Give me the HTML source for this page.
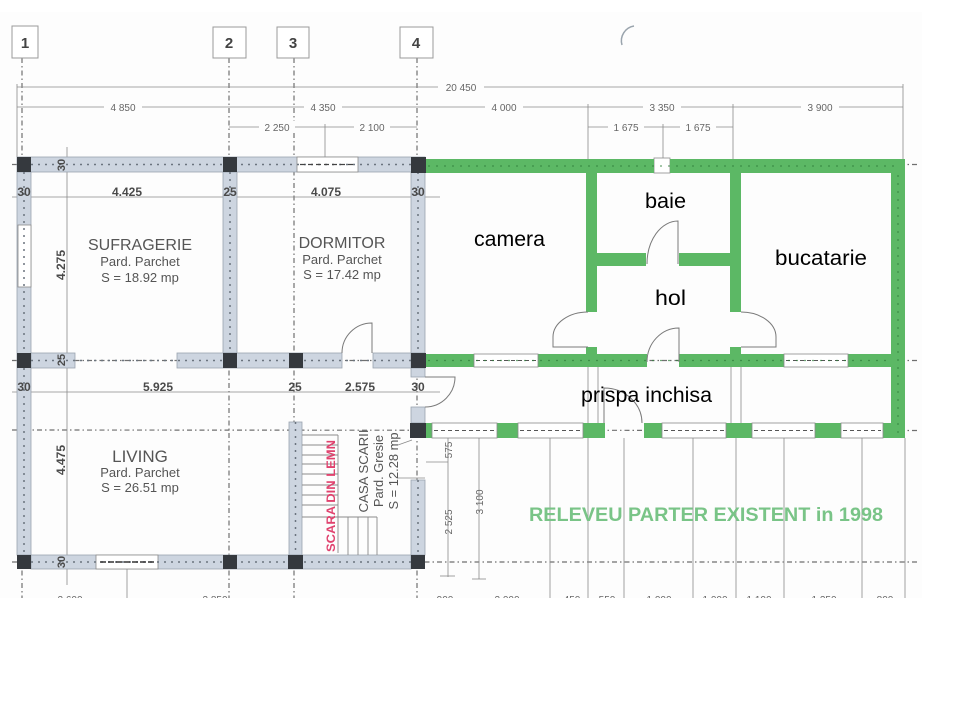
<!DOCTYPE html>
<html><head><meta charset="utf-8"><style>html,body{margin:0;padding:0;background:#fff}svg{display:block}</style></head>
<body>
<svg width="960" height="720" viewBox="0 0 960 720" xmlns="http://www.w3.org/2000/svg" font-family="'Liberation Sans', Arial, sans-serif">
<defs><clipPath id="c"><rect x="0" y="12" width="922" height="586"/></clipPath></defs>
<rect width="960" height="720" fill="#fff"/>
<g clip-path="url(#c)">
<rect x="0" y="12" width="922" height="586" fill="#fdfdfd"/>
<path d="M634,26 A15,15 0 0,0 622,45" stroke="#9aa4ad" stroke-width="1.5" fill="none"/>

<!-- axis lines -->
<g stroke="#707070" stroke-width="1.2" stroke-dasharray="5 3 1.5 3" fill="none">
<line x1="22" y1="58" x2="22" y2="600"/>
<line x1="229" y1="58" x2="229" y2="600"/>
<line x1="294" y1="58" x2="294" y2="600"/>
<line x1="417" y1="58" x2="417" y2="600"/>
<line x1="12" y1="164.5" x2="920" y2="164.5"/>
<line x1="12" y1="360.5" x2="920" y2="360.5"/>
<line x1="12" y1="430" x2="920" y2="430.5"/>
<line x1="12" y1="562" x2="920" y2="562"/>
</g>

<!-- axis label boxes -->
<g fill="#fff" stroke="#9a9a9a" stroke-width="1">
<rect x="12" y="26" width="26" height="32"/>
<rect x="213" y="27" width="33" height="31"/>
<rect x="277" y="27" width="32" height="31"/>
<rect x="400" y="27" width="33" height="31"/>
</g>
<g font-size="15" font-weight="bold" fill="#444" text-anchor="middle">
<text x="25" y="48">1</text><text x="229" y="48">2</text><text x="293" y="48">3</text><text x="416" y="48">4</text>
</g>

<!-- top dimension lines -->
<g stroke="#8a8a8a" stroke-width="0.8" fill="none">
<line x1="17" y1="87" x2="903" y2="87"/>
<line x1="17" y1="107" x2="903" y2="107"/>
<line x1="229" y1="127" x2="417" y2="127"/>
<line x1="588" y1="127" x2="733" y2="127"/>
<line x1="17" y1="84" x2="17" y2="157"/>
<line x1="903" y1="84" x2="903" y2="160"/>
<line x1="588" y1="104" x2="588" y2="160"/>
<line x1="733" y1="104" x2="733" y2="160"/>
<line x1="663" y1="124" x2="663" y2="158"/>
<line x1="325" y1="124" x2="325" y2="157"/>
<line x1="12" y1="197" x2="440" y2="197"/>
<line x1="12" y1="392" x2="440" y2="392"/>
<line x1="67" y1="147" x2="67" y2="585"/>
<line x1="127" y1="569" x2="127" y2="600"/>
<line x1="448" y1="438" x2="448" y2="577"/>
<line x1="479" y1="438" x2="479" y2="579"/>
<line x1="426" y1="462" x2="448" y2="462"/>
<line x1="440" y1="576" x2="455" y2="576"/>
<line x1="472" y1="579" x2="486" y2="579"/>
<line x1="550" y1="438" x2="550" y2="600"/>
<line x1="588" y1="367" x2="588" y2="600"/>
<line x1="598" y1="367" x2="598" y2="438"/>
<line x1="624" y1="438" x2="624" y2="600"/>
<line x1="693" y1="438" x2="693" y2="600"/>
<line x1="731" y1="367" x2="731" y2="423"/>
<line x1="741" y1="367" x2="741" y2="423"/>
<line x1="736" y1="438" x2="736" y2="600"/>
<line x1="784" y1="438" x2="784" y2="600"/>
<line x1="862" y1="438" x2="862" y2="600"/>
<line x1="905" y1="438" x2="905" y2="600"/>
<line x1="398" y1="445" x2="412" y2="440"/>
<line x1="398" y1="478" x2="425" y2="478"/>
</g>
<g font-size="10" fill="#666" text-anchor="middle">
<rect x="438" y="81" width="46" height="12" fill="#fdfdfd"/><text x="461" y="91">20 450</text>
<rect x="104" y="101" width="38" height="12" fill="#fdfdfd"/><text x="123" y="111">4 850</text>
<rect x="304" y="101" width="38" height="12" fill="#fdfdfd"/><text x="323" y="111">4 350</text>
<rect x="485" y="101" width="38" height="12" fill="#fdfdfd"/><text x="504" y="111">4 000</text>
<rect x="643" y="101" width="38" height="12" fill="#fdfdfd"/><text x="662" y="111">3 350</text>
<rect x="801" y="101" width="38" height="12" fill="#fdfdfd"/><text x="820" y="111">3 900</text>
<rect x="259" y="121" width="36" height="12" fill="#fdfdfd"/><text x="277" y="131">2 250</text>
<rect x="354" y="121" width="36" height="12" fill="#fdfdfd"/><text x="372" y="131">2 100</text>
<rect x="608" y="121" width="36" height="12" fill="#fdfdfd"/><text x="626" y="131">1 675</text>
<rect x="680" y="121" width="36" height="12" fill="#fdfdfd"/><text x="698" y="131">1 675</text>
<text transform="translate(452,450) rotate(-90)">575</text>
<text transform="translate(452,522) rotate(-90)">2 525</text>
<text transform="translate(483,502) rotate(-90)">3 100</text>
<text x="70" y="603">2 600</text><text x="215" y="603">3 850</text><text x="445" y="603">900</text>
<text x="507" y="603">2 000</text><text x="572" y="603">450</text><text x="607" y="603">550</text>
<text x="659" y="603">1 000</text><text x="715" y="603">1 000</text><text x="759" y="603">1 100</text>
<text x="824" y="603">1 250</text><text x="885" y="603">800</text>
</g>

<!-- light walls -->
<g fill="#cdd5e0" stroke="#9aa3ae" stroke-width="0.8">
<rect x="17" y="157" width="408" height="15"/>
<rect x="17" y="172" width="14" height="383"/>
<rect x="223" y="172" width="14" height="181"/>
<rect x="411" y="172" width="14" height="181"/>
<rect x="31" y="353" width="44" height="15"/>
<rect x="177" y="353" width="165" height="15"/>
<rect x="373" y="353" width="38" height="15"/>
<rect x="411" y="368" width="14" height="9"/>
<rect x="411" y="407" width="14" height="16"/>
<rect x="411" y="480" width="14" height="75"/>
<rect x="289" y="422" width="13" height="133"/>
<rect x="31" y="555" width="380" height="14"/>
</g>
<!-- windows -->
<g fill="#fff" stroke="#8a8a8a" stroke-width="0.8">
<rect x="297" y="157" width="61" height="15"/>
<rect x="18" y="225" width="13" height="62"/>
<rect x="96" y="555" width="62" height="14"/>
<rect x="654" y="158" width="16" height="15"/>
</g>
<g stroke="#6b747e" stroke-width="1.5" stroke-dasharray="2 5" fill="none">
<line x1="31" y1="164.5" x2="411" y2="164.5"/>
<line x1="24" y1="172" x2="24" y2="555"/>
<line x1="230" y1="172" x2="230" y2="353"/>
<line x1="418" y1="172" x2="418" y2="353"/>
<line x1="31" y1="360.5" x2="411" y2="360.5"/>
<line x1="295.5" y1="422" x2="295.5" y2="555"/>
<line x1="418" y1="480" x2="418" y2="555"/>
<line x1="31" y1="562" x2="411" y2="562"/>
</g>
<line x1="100" y1="562" x2="155" y2="562" stroke="#333" stroke-width="1.5" stroke-dasharray="6 2"/>
<line x1="300" y1="164.5" x2="355" y2="164.5" stroke="#444" stroke-width="1.2" stroke-dasharray="5 3"/>

<!-- columns -->
<g fill="#35393e">
<rect x="17" y="157" width="14" height="15"/><rect x="223" y="157" width="14" height="15"/><rect x="411" y="157" width="15" height="16"/>
<rect x="17" y="353" width="14" height="15"/><rect x="223" y="353" width="14" height="15"/><rect x="289" y="353" width="14" height="15"/><rect x="411" y="353" width="15" height="15"/>
<rect x="410" y="423" width="16" height="15"/>
<rect x="17" y="555" width="14" height="14"/><rect x="223" y="555" width="14" height="14"/><rect x="288" y="555" width="15" height="14"/><rect x="411" y="555" width="14" height="14"/>
</g>

<!-- green walls -->
<g fill="#5cb865">
<rect x="426" y="159" width="228" height="14"/>
<rect x="670" y="159" width="235" height="14"/>
<rect x="891" y="173" width="14" height="265"/>
<rect x="586" y="173" width="11" height="139"/>
<rect x="730" y="173" width="11" height="139"/>
<rect x="586" y="347" width="11" height="8"/>
<rect x="730" y="347" width="11" height="8"/>
<rect x="597" y="253" width="49" height="13"/>
<rect x="679" y="253" width="51" height="13"/>
<rect x="426" y="354" width="48" height="13"/>
<rect x="538" y="354" width="109" height="13"/>
<rect x="679" y="354" width="105" height="13"/>
<rect x="848" y="354" width="43" height="13"/>
<rect x="426" y="423" width="6" height="15"/>
<rect x="497" y="423" width="21" height="15"/>
<rect x="583" y="423" width="22" height="15"/>
<rect x="644" y="423" width="18" height="15"/>
<rect x="726" y="423" width="26" height="15"/>
<rect x="815" y="423" width="26" height="15"/>
<rect x="883" y="423" width="22" height="15"/>
</g>
<g fill="#fff" stroke="#8a8a8a" stroke-width="0.8">
<rect x="474" y="354" width="64" height="13"/>
<rect x="784" y="354" width="64" height="13"/>
<rect x="432" y="423" width="65" height="15"/>
<rect x="518" y="423" width="65" height="15"/>
<rect x="662" y="423" width="64" height="15"/>
<rect x="752" y="423" width="63" height="15"/>
<rect x="841" y="423" width="42" height="15"/>
</g>
<g stroke="#555" stroke-width="1" stroke-dasharray="4 3" fill="none">
<line x1="476" y1="360.5" x2="536" y2="360.5"/><line x1="786" y1="360.5" x2="846" y2="360.5"/>
<line x1="434" y1="430.5" x2="495" y2="430.5"/><line x1="520" y1="430.5" x2="581" y2="430.5"/>
<line x1="664" y1="430.5" x2="724" y2="430.5"/><line x1="754" y1="430.5" x2="813" y2="430.5"/>
<line x1="843" y1="430.5" x2="881" y2="430.5"/>
</g>
<g stroke="#2f7d3a" stroke-width="1.2" stroke-dasharray="2 6" fill="none" opacity="0.7">
<line x1="428" y1="166" x2="900" y2="166"/>
<line x1="428" y1="360.5" x2="889" y2="360.5"/>
<line x1="898" y1="175" x2="898" y2="436"/>
</g>

<!-- doors -->
<g stroke="#7a7a7a" stroke-width="1" fill="none">
<path d="M342,353 A30,30 0 0,1 372,323 L372,353"/>
<path d="M425,377 L455,377 A30,30 0 0,1 425,407"/>
<path d="M647,264 A31,43 0 0,1 678,221 L678,264"/>
<path d="M647,362 A32,34 0 0,1 679,328 L679,362"/>
<path d="M588,312 A35,25 0 0,0 553,337 L553,347 L588,347"/>
<path d="M741,312 A35,25 0 0,1 776,337 L776,347 L741,347"/>
<path d="M604,423 L604,388 A38,35 0 0,1 642,423"/>
</g>

<!-- stairs -->
<g stroke="#8a8a8a" stroke-width="0.9" fill="none">
<line x1="302" y1="435" x2="338" y2="435"/><line x1="302" y1="445" x2="338" y2="445"/>
<line x1="302" y1="455" x2="338" y2="455"/><line x1="302" y1="464" x2="338" y2="464"/>
<line x1="302" y1="474" x2="338" y2="474"/><line x1="302" y1="485" x2="338" y2="485"/>
<line x1="302" y1="495" x2="338" y2="495"/><line x1="302" y1="505" x2="338" y2="505"/>
<line x1="302" y1="517" x2="377" y2="517"/>
<line x1="338" y1="435" x2="338" y2="553"/><line x1="377" y1="517" x2="377" y2="555"/>
<line x1="348" y1="517" x2="348" y2="555"/><line x1="358" y1="517" x2="358" y2="555"/><line x1="368" y1="517" x2="368" y2="555"/>
</g>

<!-- wall dimension labels -->
<g font-size="12" font-weight="bold" fill="#4a4a4a" text-anchor="middle">
<text x="24" y="196">30</text><text x="127" y="196">4.425</text><text x="230" y="196">25</text><text x="326" y="196">4.075</text><text x="418" y="196">30</text>
<text x="24" y="391">30</text><text x="158" y="391">5.925</text><text x="295" y="391">25</text><text x="360" y="391">2.575</text><text x="418" y="391">30</text>
<text transform="translate(65,265) rotate(-90)">4.275</text>
<text transform="translate(65,460) rotate(-90)">4.475</text>
<text transform="translate(65,165) rotate(-90)" font-size="11">30</text>
<text transform="translate(65,360) rotate(-90)" font-size="11">25</text>
<text transform="translate(65,562) rotate(-90)" font-size="11">30</text>
</g>

<!-- room labels -->
<g fill="#555" text-anchor="middle">
<text x="140" y="250" font-size="16">SUFRAGERIE</text>
<text x="140" y="266" font-size="13">Pard. Parchet</text>
<text x="140" y="282" font-size="13">S = 18.92 mp</text>
<text x="342" y="248" font-size="16">DORMITOR</text>
<text x="342" y="264" font-size="13">Pard. Parchet</text>
<text x="342" y="279" font-size="13">S = 17.42 mp</text>
<text x="140" y="462" font-size="17">LIVING</text>
<text x="140" y="477" font-size="13">Pard. Parchet</text>
<text x="140" y="492" font-size="13">S = 26.51 mp</text>
<text transform="translate(368,471) rotate(-90)" font-size="13" textLength="83" lengthAdjust="spacingAndGlyphs">CASA SCARII</text>
<text transform="translate(383,471) rotate(-90)" font-size="12.5" textLength="72" lengthAdjust="spacingAndGlyphs">Pard. Gresie</text>
<text transform="translate(398,471) rotate(-90)" font-size="12.5" textLength="77" lengthAdjust="spacingAndGlyphs">S = 12.28 mp</text>
<text transform="translate(335,496) rotate(-90)" font-size="12" font-weight="bold" fill="#e0426e" textLength="112" lengthAdjust="spacingAndGlyphs">SCARA DIN LEMN</text>
</g>

<text x="529" y="521" font-size="19.5" font-weight="bold" fill="#79c487" textLength="354" lengthAdjust="spacingAndGlyphs">RELEVEU PARTER EXISTENT in 1998</text>

<!-- handwritten-style labels -->
<g fill="#000" font-size="21">
<text x="645" y="208" textLength="41" lengthAdjust="spacingAndGlyphs">baie</text>
<text x="474" y="246" textLength="71" lengthAdjust="spacingAndGlyphs">camera</text>
<text x="775" y="265" textLength="92" lengthAdjust="spacingAndGlyphs">bucatarie</text>
<text x="655" y="305" textLength="31" lengthAdjust="spacingAndGlyphs">hol</text>
<text x="581" y="402" textLength="131" lengthAdjust="spacingAndGlyphs">prispa inchisa</text>
</g>
</g>
</svg>
</body></html>
